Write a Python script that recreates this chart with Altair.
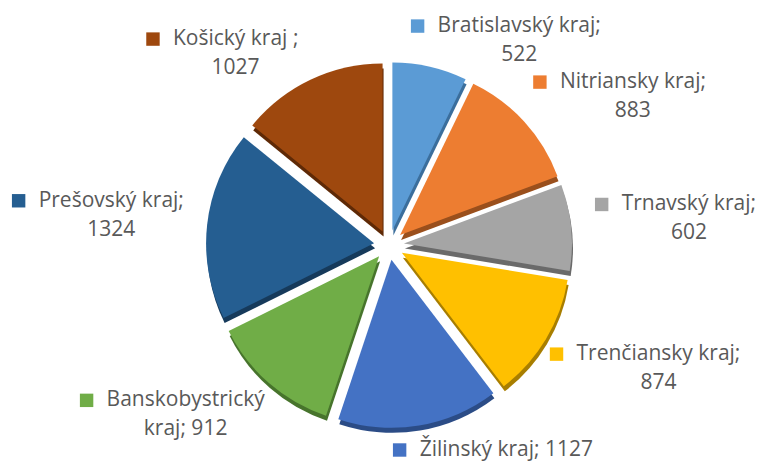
import altair as alt
import pandas as pd

# ---- data ----
categories = ["Bratislavský kraj", "Nitriansky kraj", "Trnavský kraj", "Trenčiansky kraj",
              "Žilinský kraj", "Banskobystrický kraj", "Prešovský kraj", "Košický kraj"]
values = [522, 883, 602, 874, 1127, 912, 1324, 1027]

# ---- styles ----
colors = ["#5B9BD5", "#ED7D31", "#A5A5A5", "#FFC000", "#4472C4", "#70AD47", "#255E91", "#9E480E"]
dark_colors = ["#3B6E9C", "#9A4F1C", "#6A6A6A", "#A87E00", "#2B4C86", "#47742C", "#163A5B", "#5E2906"]


def make_label(c, v):
    if c.startswith("Žilinský"):
        return f"{c}; {v}"
    if c.startswith("Banskobystrický"):
        return c.replace(" ", "\n", 1) + f"; {v}"
    if c.startswith("Košický"):
        return f"{c} ;\n{v}"
    return f"{c};\n{v}"


labels = [make_label(c, v) for c, v in zip(categories, values)]

W, H = 763, 466
CX, CY = 389, 245      # pie centre
R = 168                # slice radius
EXPL = 15              # explosion distance
DX, DY = 1, 5          # 3D depth offset
FONT = "Open Sans"
FS = 21
LH = 29

# approximate Open Sans advance widths (units per 2048 em) for text measuring
_ADV = {"a": 1139, "b": 1255, "c": 975, "č": 975, "d": 1255, "e": 1149, "f": 694, "g": 1122,
        "h": 1257, "i": 518, "j": 518, "k": 1075, "l": 518, "m": 1905, "n": 1257, "o": 1237,
        "p": 1255, "r": 836, "s": 977, "š": 977, "t": 723, "u": 1257, "v": 1026, "y": 1026,
        "ý": 1026, "z": 977, " ": 532, ";": 545, "B": 1314, "N": 1493, "T": 1147, "P": 1237,
        "K": 1221, "Ž": 1124}


def text_width(s):
    return sum(_ADV.get(ch, 1171) for ch in s) / 2048 * FS


line1 = [lab.split("\n")[0] for lab in labels]
line2 = [lab.split("\n")[1] if "\n" in lab else "" for lab in labels]

df = pd.DataFrame({
    "order": list(range(len(categories))),
    "category": categories,
    "value": values,
    "line1": line1,
    "line2": line2,
    "w1": [text_width(s) for s in line1],
})

base = alt.Chart(df).transform_window(
    cum="sum(value)", sort=[alt.SortField("order")], frame=[None, 0]
).transform_joinaggregate(
    total="sum(value)"
).transform_calculate(
    t0="(datum.cum - datum.value) / datum.total * 2 * PI",
    t1="datum.cum / datum.total * 2 * PI",
    mid="(datum.t0 + datum.t1) / 2",
    px=f"{CX} + {EXPL} * sin(datum.mid)",
    py=f"{CY} - {EXPL} * cos(datum.mid)",
    sx=f"datum.px + {DX}",
    sy=f"datum.py + {DY}",
    shade="datum.category + ' '",
    sgn="sin(datum.mid) >= 0 ? 1 : -1",
    csgn="cos(datum.mid) >= 0 ? 1 : -1",
    bx=f"{CX} + 220 * sin(datum.mid) + 70 * datum.sgn",
    by=f"{CY} + 3 - 212 * datum.csgn * pow(abs(cos(datum.mid)), 0.85)",
    nlines="datum.line2 == '' ? 1 : 2",
    tl="datum.bx - (datum.w1 + 22) / 2 + 22",
    mx="datum.tl - 20",
    t2x="datum.tl + datum.w1 / 2",
    y1=f"min(datum.by - (datum.nlines - 1) * {LH} / 2, {H} - 16)",
    y2=f"datum.y1 + {LH}",
)

shadow = base.mark_arc(radius=R, stroke=None).encode(
    x=alt.X("sx:Q", scale=None, axis=None),
    y=alt.Y("sy:Q", scale=None, axis=None),
    theta=alt.Theta("t0:Q", scale=None),
    theta2="t1:Q",
    fill=alt.Fill("shade:N", scale=alt.Scale(domain=[c + " " for c in categories], range=dark_colors),
                  legend=None),
)

slices = base.mark_arc(radius=R, stroke=None).encode(
    x=alt.X("px:Q", scale=None, axis=None),
    y=alt.Y("py:Q", scale=None, axis=None),
    theta=alt.Theta("t0:Q", scale=None),
    theta2="t1:Q",
    color=alt.Color("category:N", scale=alt.Scale(domain=categories, range=colors), legend=None),
)

text1 = base.mark_text(
    font=FONT, fontSize=FS, color="#595959", align="left", baseline="middle",
).encode(
    x=alt.X("tl:Q", scale=None, axis=None),
    y=alt.Y("y1:Q", scale=None, axis=None),
    text="line1:N",
)

text2 = base.mark_text(
    font=FONT, fontSize=FS, color="#595959", align="center", baseline="middle",
).encode(
    x=alt.X("t2x:Q", scale=None, axis=None),
    y=alt.Y("y2:Q", scale=None, axis=None),
    text="line2:N",
)

markers = base.mark_square(size=180, opacity=1).encode(
    x=alt.X("mx:Q", scale=None, axis=None),
    y=alt.Y("y1:Q", scale=None, axis=None),
    color=alt.Color("category:N", scale=alt.Scale(domain=categories, range=colors), legend=None),
)

chart = alt.layer(shadow, slices, markers, text1, text2).resolve_scale(
    color="independent", fill="independent"
).properties(
    width=W, height=H, padding=0, autosize=alt.AutoSizeParams(type="none"),
    background="white",
).configure_view(stroke=None)

chart.save("out.html", embed_options={"renderer": "svg", "actions": False})
